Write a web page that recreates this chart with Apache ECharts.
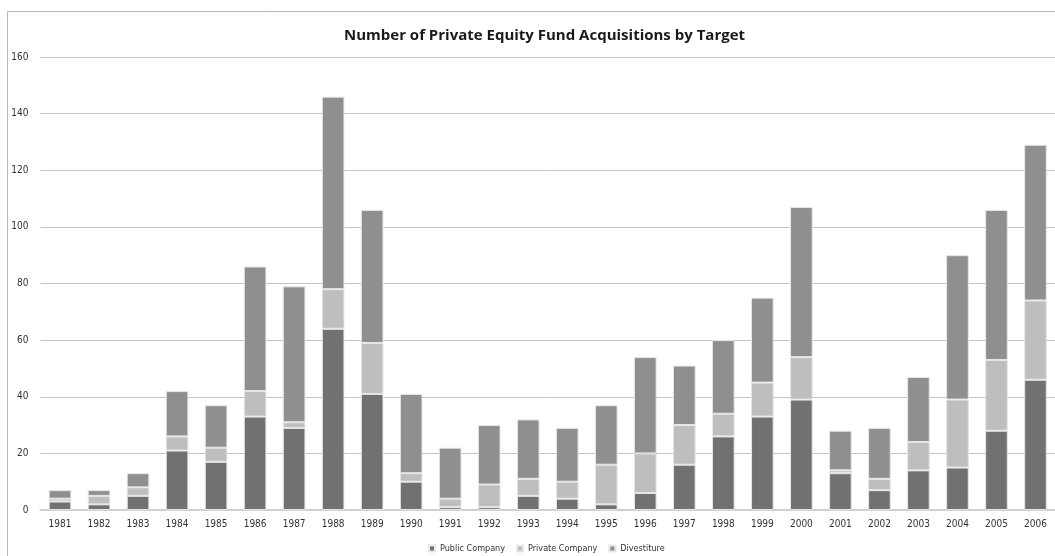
<!DOCTYPE html>
<html>
<head>
<meta charset="utf-8">
<script src="https://cdn.jsdelivr.net/npm/echarts@6/dist/echarts.min.js"></script>
<style>
  html, body { margin: 0; padding: 0; background: #ffffff; }
  #chart { width: 1055px; height: 556px; }
</style>
</head>
<body>
<div id="chart"></div>
<script>
// Acquisitions per year, split by target type
const years = ['1981','1982','1983','1984','1985','1986','1987','1988','1989','1990','1991','1992','1993',
               '1994','1995','1996','1997','1998','1999','2000','2001','2002','2003','2004','2005','2006'];
const publicCompany  = [3, 2, 5, 21, 17, 33, 29, 64, 41, 10, 1, 1, 5, 4, 2, 6, 16, 26, 33, 39, 13, 7, 14, 15, 28, 46];
const privateCompany = [1, 3, 3, 5, 5, 9, 2, 14, 18, 3, 3, 8, 6, 6, 14, 14, 14, 8, 12, 15, 1, 4, 10, 24, 25, 28];
const divestiture    = [3, 2, 5, 16, 15, 44, 48, 68, 47, 28, 18, 21, 21, 19, 21, 34, 21, 26, 30, 53, 14, 18, 23, 51, 53, 55];
const yTicks = { min: 0, max: 160, interval: 20 };

const labelFont = '"DejaVu Sans Condensed", "Open Sans", sans-serif';
const titleFont = '"Open Sans", sans-serif';

function stacked(name, data, color) {
  return {
    name: name,
    type: 'bar',
    stack: 'total',
    data: data,
    barWidth: '58%',
    itemStyle: { color: color, borderColor: '#e6e6e6', borderWidth: 1 },
    emphasis: { disabled: true }
  };
}

const chart = echarts.init(document.getElementById('chart'), null, { renderer: 'canvas' });
chart.setOption({
  animation: false,
  backgroundColor: '#ffffff',
  title: {
    text: 'Number of Private Equity Fund Acquisitions by Target',
    left: 339,
    top: 23,
    textStyle: { fontFamily: titleFont, fontWeight: 'bold', fontSize: 15, color: '#1a1a1a' }
  },
  graphic: [{
    type: 'rect',
    shape: { x: 7.5, y: 11.5, width: 1100, height: 600 },
    style: { fill: 'none', stroke: '#b8b8b8', lineWidth: 1 },
    silent: true
  }],
  legend: {
    top: 539,
    left: 423,
    itemWidth: 6,
    itemHeight: 6,
    itemGap: 11,
    icon: 'rect',
    textStyle: { fontFamily: labelFont, fontSize: 9, color: '#333333' },
    data: ['Public Company', 'Private Company', 'Divestiture']
  },
  grid: { left: 40.5, top: 57, width: 1016, height: 453, containLabel: false },
  xAxis: {
    type: 'category',
    data: years,
    axisLine: { lineStyle: { color: '#cfcfcf', width: 2 } },
    axisTick: { show: false },
    axisLabel: { fontFamily: labelFont, fontSize: 10, color: '#333333', margin: 9 }
  },
  yAxis: {
    type: 'value',
    min: yTicks.min,
    max: yTicks.max,
    interval: yTicks.interval,
    axisLine: { show: false },
    axisTick: { show: false },
    splitLine: { lineStyle: { color: '#c4c4c4', width: 1 } },
    axisLabel: { fontFamily: labelFont, fontSize: 10, color: '#333333', margin: 12 }
  },
  series: [
    stacked('Public Company', publicCompany, '#717171'),
    stacked('Private Company', privateCompany, '#bebebe'),
    stacked('Divestiture', divestiture, '#8f8f8f')
  ]
});
</script>
</body>
</html>
